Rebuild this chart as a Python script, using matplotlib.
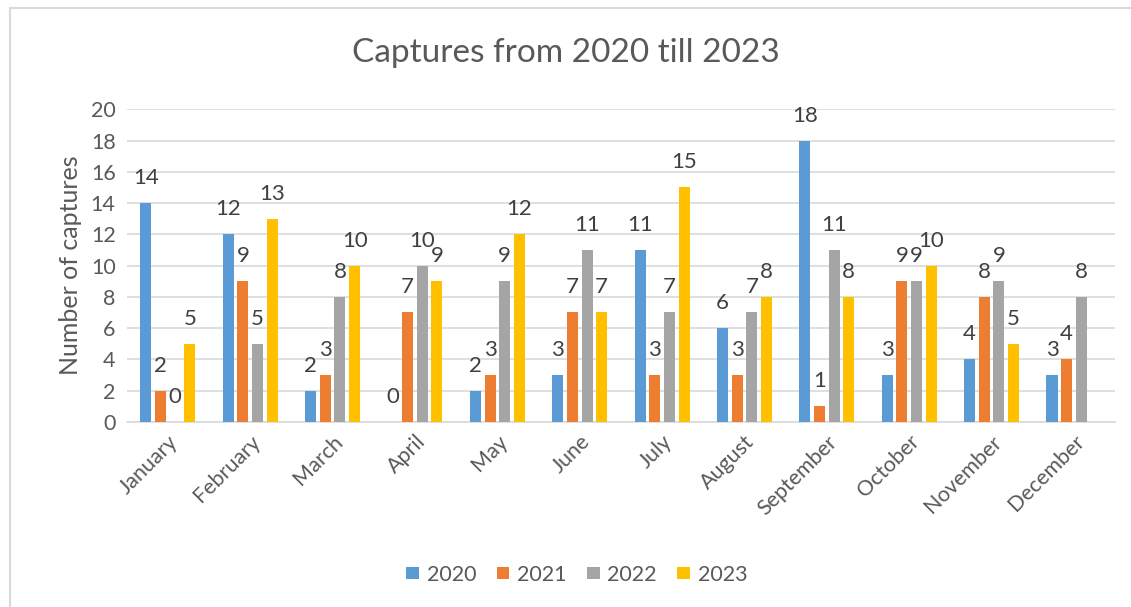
import numpy as np
import matplotlib.pyplot as plt
from matplotlib.patches import Rectangle

plt.rcParams['font.family'] = ['Lato', 'DejaVu Sans']

# data
months = ['January', 'February', 'March', 'April', 'May', 'June', 'July',
          'August', 'September', 'October', 'November', 'December']
years = ['2020', '2021', '2022', '2023']
c2020 = [14, 12, 2, 0, 2, 3, 11, 6, 18, 3, 4, 3]
c2021 = [2, 9, 3, 7, 3, 7, 3, 3, 1, 9, 8, 4]
c2022 = [0, 5, 8, 10, 9, 11, 7, 7, 11, 9, 9, 8]
c2023 = [5, 13, 10, 9, 12, 7, 15, 8, 8, 10, 5, np.nan]
colors = ['#5B9BD5', '#ED7D31', '#A5A5A5', '#FFC000']

fig = plt.figure(figsize=(11.31, 6.07), dpi=100)
ax = fig.add_axes([0.112, 0.305, 0.874, 0.515])

# light frame around the chart
fig.patches.append(Rectangle((0.009, -0.01), 1.0, 0.997, transform=fig.transFigure,
                             fill=False, edgecolor='#D9D9D9', linewidth=1.5))

x = np.arange(len(months))
stride = 0.178
width = 0.134
for i, (vals, year) in enumerate(zip([c2020, c2021, c2022, c2023], years)):
    pos = x + (i - 1.5) * stride
    ax.bar(pos, vals, width=width, color=colors[i], label=year, zorder=3)
    for p, v in zip(pos, vals):
        if np.isnan(v):
            continue
        ax.text(p, v + 1.6, str(int(v)), ha='center', va='center',
                fontsize=16, color='#404040')

ax.set_xlim(-0.5, len(months) - 0.5)
ax.set_ylim(0, 20)
ax.set_yticks(range(0, 21, 2))
ax.grid(axis='y', color='#D9D9D9', linewidth=1.2, zorder=0)
for s in ['top', 'right', 'left']:
    ax.spines[s].set_visible(False)
ax.spines['bottom'].set_color('#D9D9D9')
ax.spines['bottom'].set_linewidth(1.2)
ax.tick_params(axis='both', length=0, labelsize=15.5, colors='#595959', pad=8)
ax.set_xticks(x)
ax.set_xticklabels(months, rotation=45, ha='right', rotation_mode='anchor')
ax.tick_params(axis='x', pad=7)

ax.set_ylabel('Number of captures', fontsize=18, color='#595959', labelpad=6)
fig.text(0.5, 0.913, 'Captures from 2020 till 2023', ha='center', va='center',
         fontsize=24, color='#595959')

fig.legend(loc='center', bbox_to_anchor=(0.51, 0.053), ncol=4, frameon=False,
           fontsize=15.5, handlelength=0.6, handleheight=0.45, columnspacing=0.95,
           handletextpad=0.35, labelcolor='#595959')

fig.savefig('out.png', dpi=100)
